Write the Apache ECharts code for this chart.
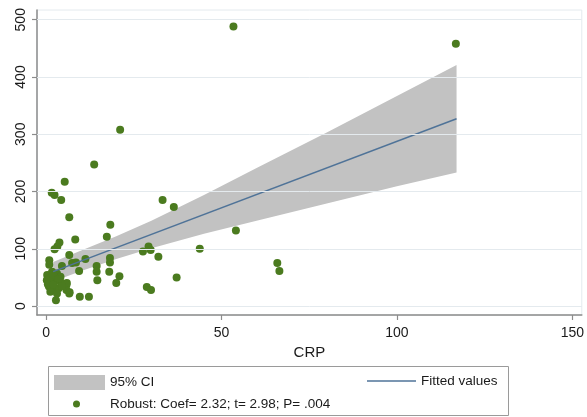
<!DOCTYPE html>
<html>
<head>
<meta charset="utf-8">
<script src="https://cdn.jsdelivr.net/npm/echarts@6/dist/echarts.min.js"></script>
<style>
    html, body { margin: 0; padding: 0; background: #fff; }
    #chart { width: 587px; height: 417px; }
</style>
</head>
<body>
<div id="chart"></div>
<script>
// scatter points (CRP, y)
var crp = [53.4, 116.8, 21.1, 13.7, 5.3, 1.6, 2.4, 4.3, 6.6, 3.8, 3.2, 2.4, 8.3, 6.6, 0.9, 0.9, 4.5, 7.4, 8.5, 9.4,
    11.2, 14.4, 14.4, 14.6, 18.3, 17.3, 18.2, 18.2, 18.0, 20.9, 20.0, 9.6, 12.2, 2.8, 5.9, 6.6, 27.6, 29.2, 29.8, 32.0,
    28.7, 29.9, 33.2, 36.4, 37.2, 43.8, 54.1, 65.9, 66.5, 0.3, 1.7, 3.1, 4.1, 0.2, 1.2, 2.6, 4.1, 0.8, 2.2, 3.6,
    1.2, 3.1, 5.8, 5.8, 6.7, 1.0, 2.0, 3.5, 0.5, 2.0, 4.5];
var yVals = [488, 458, 308, 247, 217, 198, 194, 185, 155, 111, 104, 99, 116, 89, 80, 72, 70, 75, 76, 61,
    82, 70, 60, 45, 142, 121, 84, 76, 60, 52, 40, 16, 16, 10, 40, 22, 95, 104, 98, 86,
    33, 28, 185, 173, 50, 100, 132, 75, 61, 54, 60, 57, 51, 45, 42, 44, 42, 34, 31, 31,
    25, 22, 37, 28, 24, 48, 55, 47, 38, 37, 35];

// fitted line and 95% CI band
var fitX = [2, 117];
var fitY = [60, 327];
var ciX = [2, 10, 20, 30, 45, 60, 80, 100, 117];
var ciUpper = [77, 97, 122, 149, 194, 241, 303, 367, 421];
var ciLower = [43, 61, 82, 101, 126, 149, 179, 209, 233];

var xTicks = [0, 50, 100, 150];
var yTicks = [0, 100, 200, 300, 400, 500];

var robustLabel = 'Robust: Coef= 2.32; t= 2.98; P= .004';

var chart = echarts.init(document.getElementById('chart'));

var axisGray = '#8c8c8c';
var font = 'Liberation Sans, Arial, sans-serif';

var options = {
    animation: false,
    textStyle: { fontFamily: font },
    grid: {
        left: 37,
        right: 5,
        top: 10,
        bottom: 102,
        show: true,
        borderColor: '#e4eaee',
        borderWidth: 1
    },
    xAxis: {
        type: 'value',
        min: -2.6,
        max: 152.7,
        name: 'CRP',
        nameLocation: 'middle',
        nameGap: 28,
        nameTextStyle: { fontSize: 15, color: '#1a1a1a', fontFamily: font },
        axisLine: { show: true, onZero: false, lineStyle: { color: axisGray, width: 1.5 } },
        axisTick: { show: true, length: 5, customValues: xTicks, lineStyle: { color: axisGray, width: 1.2 } },
        axisLabel: { customValues: xTicks, margin: 11, fontSize: 14, color: '#1a1a1a', fontFamily: font },
        splitLine: { show: false }
    },
    yAxis: {
        type: 'value',
        min: -15.7,
        max: 517,
        axisLine: { show: true, onZero: false, lineStyle: { color: axisGray, width: 1.5 } },
        axisTick: { show: true, length: 5, customValues: yTicks, lineStyle: { color: axisGray, width: 1.2 } },
        axisLabel: { customValues: yTicks, rotate: 90, margin: 9, fontSize: 14, color: '#1a1a1a', fontFamily: font },
        splitLine: { show: false }
    },
    legend: [
        {
            data: [{ name: '95% CI', icon: 'rect' }],
            left: 49, top: 370,
            itemWidth: 51, itemHeight: 15,
            selectedMode: false,
            textStyle: { fontSize: 13.5, color: '#1a1a1a', padding: [0, 0, 0, 0], fontFamily: font }
        },
        {
            // thin bar centred in a 14px tall box (the move-to points keep the box height)
            data: [{ name: 'Fitted values', icon: 'path://M0,0 L0,0 M0,14 L0,14 M0,6.25 L49,6.25 L49,7.75 L0,7.75 Z' }],
            left: 362, top: 369,
            itemWidth: 49, itemHeight: 14,
            selectedMode: false,
            textStyle: { fontSize: 13.5, color: '#1a1a1a', padding: [0, 0, 0, 0], fontFamily: font }
        },
        {
            data: [{ name: robustLabel, icon: 'circle' }],
            left: 68, top: 392,
            itemWidth: 51, itemHeight: 7,
            selectedMode: false,
            textStyle: { fontSize: 13.5, color: '#1a1a1a', padding: [0, 0, 0, 3], fontFamily: font }
        }
    ],
    graphic: [
        {
            type: 'rect',
            shape: { x: 48.5, y: 366.5, width: 460, height: 49 },
            style: { fill: 'none', stroke: '#9a9a9a', lineWidth: 1 },
            silent: true
        }
    ],
    series: [
        {
            // horizontal grid lines
            name: 'grid',
            type: 'line',
            data: [],
            z: 1,
            silent: true,
            markLine: {
                silent: true,
                symbol: 'none',
                label: { show: false },
                lineStyle: { color: '#e4eaee', type: 'solid', width: 1 },
                data: yTicks.map(function (v) { return { yAxis: v }; })
            }
        },
        {
            name: '95% CI',
            type: 'custom',
            z: 2,
            silent: true,
            itemStyle: { color: '#c2c2c2' },
            data: ciX.map(function (x, i) { return [x, ciLower[i], ciUpper[i]]; }),
            encode: { x: 0, y: [1, 2] },
            renderItem: function (params, api) {
                if (params.dataIndex !== 0) return;
                var pts = [];
                for (var i = 0; i < ciX.length; i++) pts.push(api.coord([ciX[i], ciUpper[i]]));
                for (var j = ciX.length - 1; j >= 0; j--) pts.push(api.coord([ciX[j], ciLower[j]]));
                return { type: 'polygon', shape: { points: pts }, style: { fill: '#c2c2c2' } };
            }
        },
        {
            name: robustLabel,
            type: 'scatter',
            z: 3,
            symbolSize: 8,
            itemStyle: { color: '#4b7b1f', opacity: 1 },
            data: crp.map(function (x, i) { return [x, yVals[i]]; })
        },
        {
            name: 'Fitted values',
            type: 'line',
            z: 4,
            symbol: 'none',
            lineStyle: { color: '#4f7398', width: 1.5 },
            itemStyle: { color: '#4f7398' },
            data: fitX.map(function (x, i) { return [x, fitY[i]]; })
        }
    ]
};

chart.setOption(options);
</script>
</body>
</html>
